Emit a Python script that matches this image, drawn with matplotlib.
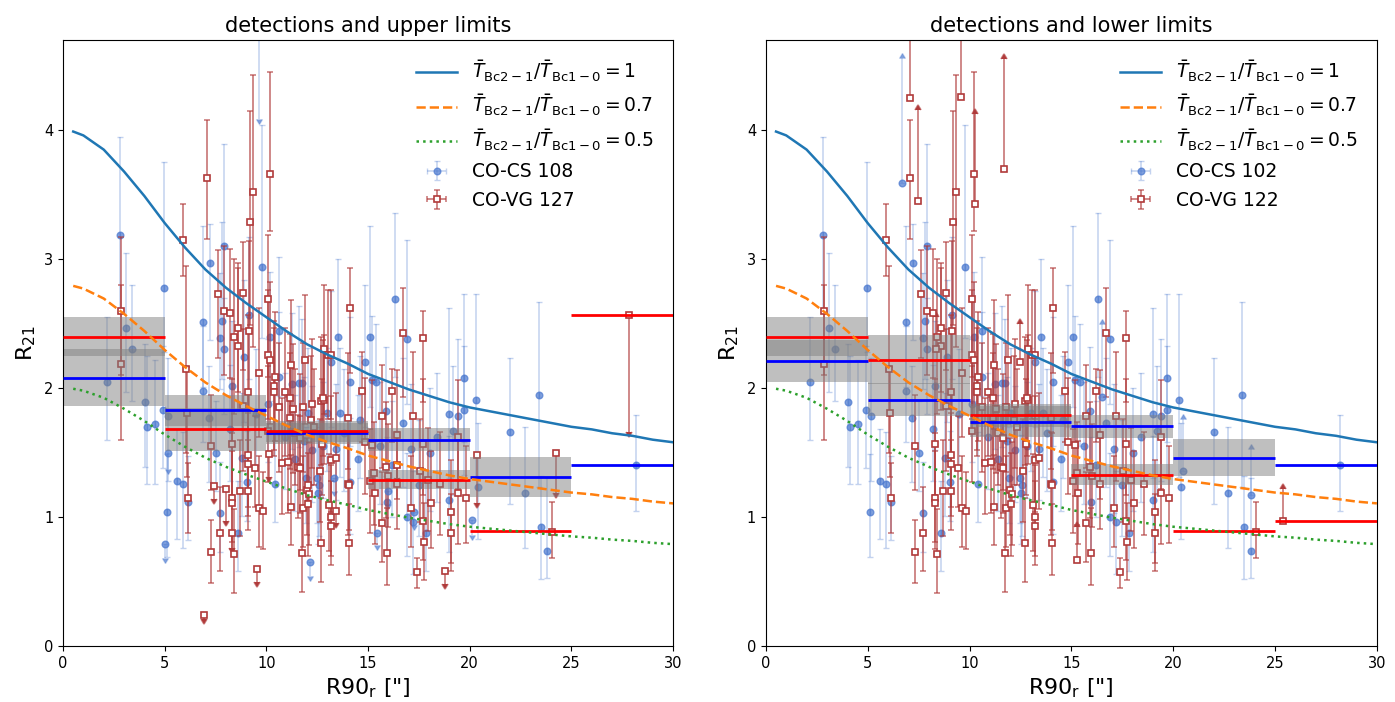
import numpy as np
import matplotlib.pyplot as plt

# R21 expected for equal mean brightness temperatures, sampled in R90
r90_model = [0.5, 1, 2, 3, 4, 5, 6, 7, 8, 9, 10, 11, 12, 13, 14, 15, 16,
             17, 18, 19, 20, 21, 22, 23, 24, 25, 26, 27, 28, 29, 30]
r21_model = [3.99, 3.96, 3.85, 3.68, 3.49, 3.28, 3.09, 2.92, 2.78, 2.66, 2.55,
             2.44, 2.34, 2.26, 2.19, 2.11, 2.05, 1.99, 1.94, 1.89, 1.85, 1.82,
             1.79, 1.76, 1.73, 1.70, 1.68, 1.65, 1.63, 1.60, 1.58]
tb_ratios = [1, 0.7, 0.5]
ratio_labels = ['1', '0.7', '0.5']

# CO-CS detections
cs_x = [2.15, 2.80, 3.10, 3.40, 4.05, 4.15, 4.50, 4.90, 4.97, 5.15, 5.10, 5.60,
        5.90, 6.15, 6.90, 6.90, 7.23, 7.20, 7.50, 7.70, 7.70, 7.80, 7.90, 7.90,
        8.20, 8.30, 8.60, 8.80, 8.90, 9.05, 9.15, 9.50, 9.80, 10.10, 10.20, 10.40,
        10.60, 10.60, 10.90, 11.25, 11.40, 11.60, 11.75, 11.85, 11.95, 12.05,
        12.25, 12.50, 12.55, 12.60, 12.80, 13.00, 13.20, 13.40, 13.50, 13.60,
        13.80, 14.10, 14.10, 14.50, 14.60, 14.85, 15.10, 15.20, 15.40, 15.60,
        15.90, 15.95, 16.20, 16.30, 16.70, 16.90, 16.90, 17.10, 17.20, 17.50,
        17.85, 18.05, 18.40, 19.00, 19.00, 19.20, 19.40, 19.70, 19.70, 20.30,
        20.40, 22.00, 22.70, 23.40, 23.50, 23.80, 28.20]
cs_y = [2.05, 3.19, 2.47, 2.30, 1.89, 1.70, 1.72, 1.83, 2.78, 1.78, 1.04, 1.28,
        1.26, 1.12, 2.51, 1.98, 2.97, 1.77, 1.50, 1.03, 2.39, 2.52, 3.10, 2.30,
        1.68, 2.02, 0.88, 1.46, 2.24, 1.27, 2.57, 1.80, 2.94, 1.88, 2.40, 1.26,
        2.44, 2.09, 1.62, 2.03, 1.45, 2.04, 2.04, 1.59, 1.30, 1.81,
        1.52, 1.30, 1.19, 1.25, 1.55, 1.81, 2.20, 1.53, 2.40, 1.81,
        1.65, 2.05, 1.27, 1.45, 1.75, 2.20, 2.40, 2.06, 2.05, 1.55,
        1.82, 1.12, 1.40, 2.69, 1.73, 2.38, 1.00, 1.53, 0.96, 1.25,
        0.88, 1.50, 1.62, 1.80, 1.13, 1.67, 1.78, 2.08, 1.83, 1.91,
        1.23, 1.66, 1.19, 1.95, 0.92, 0.74, 1.40]
cs_elo = [0.45, 0.60, 0.50, 0.40, 0.50, 0.44, 0.46, 0.45, 0.50, 0.50, 0.35, 0.45,
          0.50, 0.30, 0.50, 0.40, 0.60, 0.50, 0.30, 0.30, 0.40, 0.45, 0.50, 0.50,
          0.40, 0.50, 0.30, 0.45, 0.50, 0.30, 0.50, 0.40, 0.55, 0.45, 0.50, 0.30,
          0.50, 0.45, 0.40, 0.50, 0.40, 0.50, 0.45, 0.40, 0.35, 0.50,
          0.40, 0.35, 0.40, 0.40, 0.40, 0.45, 0.50, 0.40, 0.60, 0.50,
          0.45, 0.50, 0.40, 0.40, 0.45, 0.50, 0.55, 0.50, 0.50, 0.45,
          0.50, 0.40, 0.40, 0.60, 0.50, 0.50, 0.30, 0.50, 0.40, 0.40,
          0.30, 0.45, 0.50, 0.50, 0.40, 0.50, 0.50, 0.50, 0.50, 0.60,
          0.40, 0.56, 0.43, 0.72, 0.40, 0.21, 0.35]
cs_ehi = [0.50, 0.76, 0.58, 0.50, 0.45, 0.55, 0.50, 0.50, 0.97, 0.45, 0.45, 0.40,
          0.40, 0.35, 0.75, 0.50, 0.30, 0.40, 0.40, 0.40, 0.50, 0.77, 0.79, 0.40,
          0.50, 0.50, 0.40, 0.50, 0.60, 0.40, 0.60, 0.50, 1.10, 0.50, 0.50, 0.40,
          0.58, 0.50, 0.50, 0.55, 0.50, 0.60, 0.50, 0.50, 0.40, 0.50,
          0.50, 0.40, 0.45, 0.50, 0.50, 0.50, 0.55, 0.50, 0.60, 0.50,
          0.50, 0.50, 0.50, 0.50, 0.50, 0.60, 0.86, 0.50, 0.45, 0.50,
          0.50, 0.50, 0.50, 0.67, 0.50, 0.77, 0.50, 0.50, 0.40, 0.50,
          0.40, 0.50, 0.50, 0.82, 0.50, 0.50, 0.60, 0.65, 0.50, 0.82,
          0.50, 0.57, 0.51, 0.72, 0.40, 0.56, 0.39]

# CO-CS upper limits (value, arrow length)
cs_ul_x = [9.65, 5.00, 5.15, 12.15, 15.45, 17.25, 20.10, 13.30, 16.00]
cs_ul_y = [5.30, 0.79, 1.50, 0.65, 0.88, 1.04, 0.98, 1.30, 1.20]
cs_ul_len = [1.21, 0.11, 0.13, 0.11, 0.10, 0.10, 0.12, 0.10, 0.10]

# CO-CS lower limits
cs_ll_x = [6.70, 16.50, 20.50, 23.80]
cs_ll_y = [3.59, 1.93, 1.36, 1.17]
cs_ll_len = [0.97, 0.57, 0.40, 0.36]

# CO-VG detections
vg_x = [2.85, 2.85, 5.90, 6.05, 6.10, 6.15, 7.10, 7.30, 7.30, 7.60, 7.70, 7.90,
        8.20, 8.30, 8.30, 8.30, 8.40, 8.40, 8.60, 8.60, 8.70, 8.85, 8.85, 9.10,
        9.10, 9.10, 9.10, 9.15, 9.20, 9.35, 9.45, 9.65, 9.65, 9.85, 10.10, 10.20,
        10.10, 10.20, 10.40, 10.35, 10.35, 10.10, 10.60, 10.75, 11.05, 10.90,
        11.15, 11.30, 11.15, 11.20, 11.20, 11.40, 11.55, 11.65, 11.65, 11.80,
        11.80, 11.75, 11.90, 12.00, 12.10, 12.05, 12.20, 12.25, 12.65, 12.70,
        12.75, 12.70, 12.85, 12.85, 13.05, 13.20, 13.10, 13.20, 13.20, 13.20,
        13.40, 14.00, 14.00, 14.05, 14.05, 14.10, 14.70, 14.85, 15.20, 15.30,
        15.10, 15.35, 15.70, 15.70, 15.90, 15.95, 16.00, 16.20, 16.40, 16.40,
        16.70, 17.10, 17.20, 17.55, 17.70, 17.70, 17.70, 17.75, 17.40, 17.95,
        18.10, 18.55, 19.40, 19.40, 19.10, 19.10, 19.80, 24.05, 12.80, 12.35]
vg_y = [2.60, 2.19, 3.15, 2.15, 1.81, 1.15, 3.63, 1.55, 0.73, 2.73, 0.88, 2.60,
        2.58, 1.57, 1.15, 1.11, 2.40, 0.71, 2.47, 2.33, 1.20, 2.74, 1.86, 1.97,
        1.48, 1.41, 1.20, 2.44, 3.29, 3.52, 1.38, 2.12, 1.07, 1.05, 2.69, 3.66,
        2.26, 2.22, 2.09, 2.02, 1.97, 1.67, 1.85, 1.42, 1.43, 1.97,
        1.92, 1.84, 1.77, 2.18, 1.08, 1.65, 1.39, 1.61, 1.38, 1.85,
        1.07, 0.72, 2.22, 1.21, 1.18, 1.10, 1.75, 1.88, 1.36, 1.90,
        1.57, 0.80, 2.30, 1.91, 2.26, 2.26, 1.09, 1.00, 0.93, 1.44,
        1.46, 1.77, 1.26, 1.25, 0.80, 2.62, 1.98, 1.58, 1.56, 1.34,
        1.28, 1.19, 1.78, 0.95, 1.39, 0.72, 1.32, 1.98, 1.64, 1.26,
        2.43, 1.07, 1.78, 1.36, 2.39, 1.57, 0.97, 0.81, 0.57, 1.29,
        1.11, 1.26, 1.62, 1.19, 1.04, 0.88, 1.15, 0.885, 1.92, 1.70]
vg_elo = [0.50, 0.59, 0.28, 0.65, 0.50, 0.27, 0.47, 0.34, 0.24, 0.50, 0.30, 0.50,
          0.50, 0.40, 0.40, 0.30, 0.60, 0.30, 0.50, 0.50, 0.35, 0.60, 0.50, 0.50,
          0.40, 0.40, 0.30, 0.60, 0.80, 1.20, 0.30, 0.50, 0.30, 0.30, 0.60, 0.44,
          0.50, 0.50, 0.50, 0.50, 0.50, 0.40, 0.50, 0.40, 0.40, 0.50,
          0.50, 0.50, 0.40, 0.50, 0.30, 0.40, 0.40, 0.40, 0.35, 0.50,
          0.30, 0.30, 0.50, 0.35, 0.40, 0.40, 0.50, 0.50, 0.40, 0.50,
          0.40, 0.30, 0.50, 0.50, 0.50, 0.50, 0.35, 0.30, 0.30, 0.40,
          0.40, 0.40, 0.40, 0.35, 0.25, 0.50, 0.40, 0.40, 0.40, 0.40,
          0.40, 0.40, 0.40, 0.30, 0.40, 0.25, 0.40, 0.40, 0.50, 0.35,
          0.50, 0.30, 0.50, 0.40, 0.50, 0.40, 0.30, 0.30, 0.12, 0.40,
          0.35, 0.40, 0.40, 0.40, 0.40, 0.30, 0.35, 0.20, 0.45, 0.45]
vg_ehi = [0.57, 0.61, 0.28, 0.80, 0.35, 0.27, 0.45, 0.40, 0.25, 0.34, 0.35, 0.50,
          0.50, 0.50, 0.50, 0.40, 0.60, 0.35, 0.50, 0.60, 0.40, 0.39, 0.60, 0.60,
          0.50, 0.40, 0.40, 0.70, 0.86, 0.91, 0.40, 0.50, 0.40, 0.30, 0.50, 0.79,
          0.50, 0.60, 0.50, 0.50, 0.50, 0.50, 0.50, 0.50, 0.50, 0.50,
          0.50, 0.50, 0.50, 0.50, 0.40, 0.50, 0.40, 0.50, 0.40, 0.50,
          0.40, 0.35, 0.50, 0.40, 0.40, 0.40, 0.50, 0.50, 0.40, 0.50,
          0.50, 0.35, 0.50, 0.50, 0.50, 0.50, 0.40, 0.40, 0.35, 0.50,
          0.50, 0.50, 0.40, 0.40, 0.30, 0.31, 0.30, 0.50, 0.50, 0.40,
          0.40, 0.40, 0.40, 0.40, 0.50, 0.35, 0.40, 0.17, 0.50, 0.40,
          0.35, 0.40, 0.50, 0.40, 0.21, 0.50, 0.40, 0.30, 0.11, 0.40,
          0.40, 0.40, 0.44, 0.45, 0.40, 0.30, 0.40, 0.23, 0.45, 0.45]

# CO-VG upper limits
vg_ul_x = [6.95, 7.40, 8.00, 8.30, 9.55, 10.15, 12.05, 13.40, 16.40, 18.80,
           20.35, 24.25, 27.85]
vg_ul_y = [0.24, 1.24, 1.22, 0.88, 0.60, 1.49, 1.25, 1.05, 1.40, 0.58,
           1.48, 1.50, 2.57]
vg_ul_len = [0.03, 0.10, 0.25, 0.12, 0.10, 0.18, 0.12, 0.10, 0.10, 0.10,
             0.37, 0.31, 0.91]

# CO-VG lower limits
vg_ll_x = [7.07, 7.45, 8.35, 9.57, 10.25, 11.70, 12.50, 15.30, 25.40]
vg_ll_y = [4.25, 3.45, 2.30, 4.26, 3.43, 3.70, 2.20, 0.67, 0.97]
vg_ll_len = [0.60, 0.71, 0.25, 0.60, 0.70, 0.85, 0.30, 0.25, 0.25]

# binned medians and their uncertainties
bin_edges = [0, 5, 10, 15, 20, 25, 30]
up_cs_med = [2.08, 1.83, 1.65, 1.60, 1.31, 1.40]
up_cs_err = [0.22, 0.12, 0.08, 0.09, 0.155, np.nan]
up_vg_med = [2.40, 1.68, 1.665, 1.29, 0.89, 2.57]
up_vg_err = [0.15, 0.165, 0.08, 0.075, np.nan, np.nan]
lo_cs_med = [2.21, 1.91, 1.74, 1.705, 1.46, 1.40]
lo_cs_err = [0.16, 0.13, 0.12, 0.09, 0.145, np.nan]
lo_vg_med = [2.40, 2.22, 1.79, 1.33, 0.89, 0.97]
lo_vg_err = [0.15, 0.19, 0.09, 0.08, np.nan, np.nan]

cs_color = '#4a78cf'
vg_color = '#b03a3a'


def rgba(hexcol, a):
    c = plt.matplotlib.colors.to_rgba(hexcol)
    return (c[0], c[1], c[2], a)


def draw_panel(ax, title, kind, cs_med, cs_err, vg_med, vg_err, n_cs, n_vg):
    styles = ['-', '--', ':']
    colors = ['#1f77b4', '#ff7f0e', '#2ca02c']
    for ratio, lab, ls, col in zip(tb_ratios, ratio_labels, styles, colors):
        ax.plot(r90_model, np.array(r21_model) * ratio, ls=ls, color=col, lw=1.8,
                zorder=4,
                label=r'$\bar{T}_{\rm Bc2-1}/\bar{T}_{\rm Bc1-0}=' + lab + '$')

    cs_kw = dict(fmt='o', ms=4.8, color=rgba(cs_color, 0.7),
                 ecolor=rgba(cs_color, 0.33), elinewidth=1.1, capsize=2.5,
                 zorder=2)
    vg_kw = dict(fmt='s', ms=4, mfc='white', mec=vg_color, mew=1.2,
                 color=vg_color, ecolor=rgba(vg_color, 0.65), elinewidth=1.3,
                 capsize=2.5, zorder=2.1)

    ax.errorbar(cs_x, cs_y, yerr=[cs_elo, cs_ehi], xerr=0,
                label='CO-CS %d' % n_cs, **cs_kw)
    ax.errorbar(vg_x, vg_y, yerr=[vg_elo, vg_ehi], xerr=0,
                label='CO-VG %d' % n_vg, **vg_kw)

    if kind == 'upper':
        ax.errorbar(cs_ul_x, cs_ul_y, yerr=cs_ul_len, uplims=True, **cs_kw)
        ax.errorbar(vg_ul_x, vg_ul_y, yerr=vg_ul_len, uplims=True, **vg_kw)
    else:
        ax.errorbar(cs_ll_x, cs_ll_y, yerr=cs_ll_len, lolims=True, **cs_kw)
        ax.errorbar(vg_ll_x, vg_ll_y, yerr=vg_ll_len, lolims=True, **vg_kw)

    for i in range(len(bin_edges) - 1):
        x0, x1 = bin_edges[i], bin_edges[i + 1]
        for med, err in ((cs_med[i], cs_err[i]), (vg_med[i], vg_err[i])):
            if not np.isnan(err):
                ax.fill_between([x0, x1], med - err, med + err, color='gray',
                                alpha=0.5, lw=0, zorder=2.5)
        ax.hlines(cs_med[i], x0, x1, color='blue', lw=2, zorder=3)
        ax.hlines(vg_med[i], x0, x1, color='red', lw=2, zorder=3)

    ax.set_xlim(0, 30)
    ax.set_ylim(0, 4.7)
    ax.set_title(title, fontsize=15)
    ax.set_xlabel(r'R90$_{\rm r}$ ["]', fontsize=16)
    ax.set_ylabel(r'R$_{21}$', fontsize=16)
    ax.tick_params(labelsize=10.5)
    ax.legend(loc='upper right', frameon=False, fontsize=13.5,
              borderaxespad=0.6, handlelength=2.2)


fig = plt.figure(figsize=(13.95, 7.02), dpi=100)
ax1 = fig.add_axes([0.0452, 0.0798, 0.4373, 0.8632])
ax2 = fig.add_axes([0.549, 0.0798, 0.438, 0.8632])

draw_panel(ax1, 'detections and upper limits', 'upper',
           up_cs_med, up_cs_err, up_vg_med, up_vg_err, 108, 127)
draw_panel(ax2, 'detections and lower limits', 'lower',
           lo_cs_med, lo_cs_err, lo_vg_med, lo_vg_err, 102, 122)

fig.savefig('out.png', dpi=100)
